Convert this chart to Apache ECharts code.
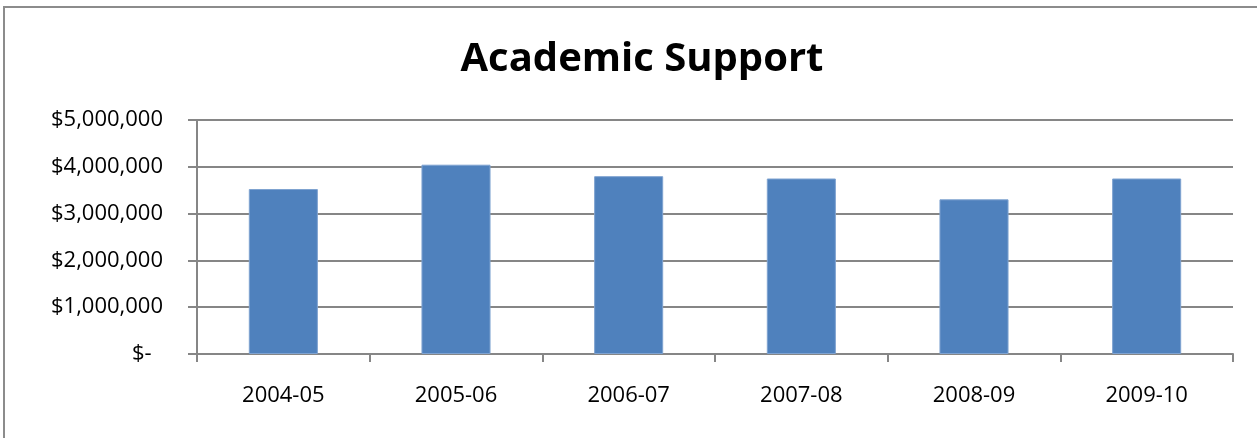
<!DOCTYPE html>
<html><head><meta charset="utf-8">
<script src="https://cdn.jsdelivr.net/npm/echarts@6/dist/echarts.min.js"></script>
<style>
html,body{margin:0;padding:0;background:#fff;overflow:hidden}
#frame{position:absolute;left:3px;top:6px;width:1300px;height:500px;border:2px solid #8c8c8c;box-sizing:border-box}
#c{position:absolute;left:0;top:0;width:1257px;height:438px}
</style></head>
<body>
<div id="frame"></div>
<div id="c"></div>
<script>
const categories = ['2004-05','2005-06','2006-07','2007-08','2008-09','2009-10'];
const values = [3525000, 4045000, 3800000, 3750000, 3305000, 3750000];
const titleText = 'Academic Support';

const fmt = v => v === 0 ? '$-  ' : '$' + v.toLocaleString('en-US');
const chart = echarts.init(document.getElementById('c'));
chart.setOption({
  animation:false,
  title:{text:titleText,left:637,textAlign:'center',top:35,textStyle:{fontFamily:'Open Sans',fontWeight:'bold',fontSize:40,color:'#000'}},
  grid:{left:197,right:24,top:120,bottom:84},
  xAxis:{type:'category',data:categories,
    axisLine:{lineStyle:{color:'#868686',width:2}},
    axisTick:{show:true,length:8,lineStyle:{color:'#868686',width:2}},
    axisLabel:{color:'#000',fontFamily:'Open Sans',fontSize:22,margin:31}},
  yAxis:{type:'value',min:0,max:5000000,interval:1000000,
    axisLine:{show:true,lineStyle:{color:'#868686',width:2}},
    axisTick:{show:true,length:9,lineStyle:{color:'#868686',width:2}},
    splitLine:{lineStyle:{color:'#868686',width:2}},
    axisLabel:{color:'#000',fontFamily:'Open Sans',fontSize:22,margin:34,formatter:fmt}},
  series:[{type:'bar',data:values,barWidth:'40%',
    itemStyle:{color:'#4f81bd',borderColor:'#7fa3d1',borderWidth:1}}]
});
</script>
</body></html>
